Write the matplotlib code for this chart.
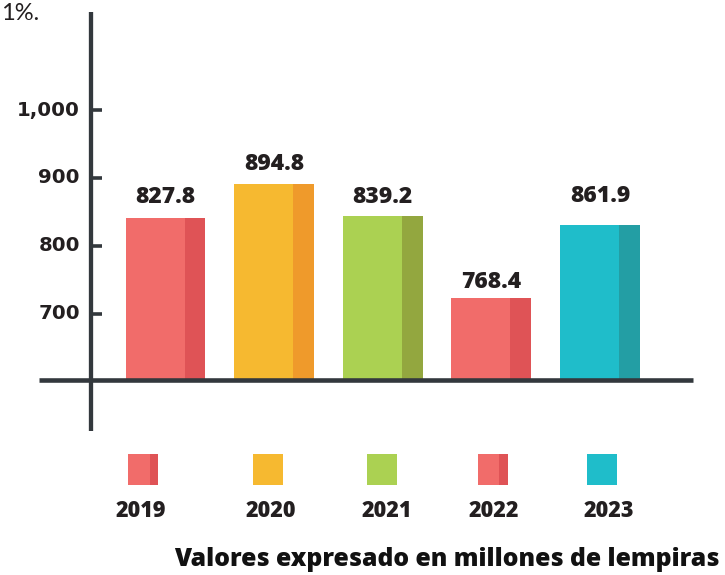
import matplotlib
matplotlib.use("Agg")
import matplotlib.pyplot as plt
from matplotlib.patches import Rectangle

# ---- data ----
years = ["2019", "2020", "2021", "2022", "2023"]
value_labels = ["827.8", "894.8", "839.2", "768.4", "861.9"]
bar_tops = [840.9, 890.6, 844.3, 723.6, 830.2]   # bar heights as drawn in the picture
baseline = 602.8
yticks = [700, 800, 900, 1000]
ytick_labels = ["700", "800", "900", "1,000"]
footer = "Valores expresado en millones de lempiras"
corner_text = "1%."

# ---- styles ----
light = ["#f16c6a", "#f6b930", "#abd152", "#f16c6a", "#1fbdca"]
dark = ["#df5356", "#ef9a2b", "#93a73f", "#df5356", "#239ea4"]
legend_dark = [True, False, False, True, False]
axis_col = "#33383d"
text_col = "#231f20"
label_off_px = [21, 20, 19, 16, 29]
FONT = "Open Sans"

W, H, DPI = 725, 575, 100
fig = plt.figure(figsize=(W / DPI, H / DPI), dpi=DPI)
fig.patch.set_facecolor("white")

ax = fig.add_axes([0, 0, 1, 1])
ax.set_xlim(-1.524, 5.152)
ax.set_ylim(315.2, 1162.0)
ax.axis("off")

bw = 0.7366
dw = 0.193
xs = list(range(len(years)))
for i, x in enumerate(xs):
    h = bar_tops[i] - baseline
    ax.bar(x, h, width=bw, bottom=baseline, color=light[i], linewidth=0, zorder=2)
    ax.bar(x + bw / 2 - dw / 2, h, width=dw, bottom=baseline, color=dark[i],
           linewidth=0, zorder=2)
    ax.annotate(value_labels[i], (x, bar_tops[i]), xytext=(0, label_off_px[i] * 0.72),
                textcoords="offset points", ha="center", va="center",
                fontsize=16.5, fontweight="heavy", family=FONT, color=text_col)

# axes lines
ax.plot([-0.686, -0.686], [527.7, 1144.3], color=axis_col, lw=3.1,
        solid_capstyle="butt", zorder=4)
ax.plot([-1.162, 4.857], [baseline, baseline], color=axis_col, lw=3.3,
        solid_capstyle="butt", zorder=4)
for v, lab in zip(yticks, ytick_labels):
    ax.plot([-0.686, -0.585], [v, v], color=axis_col, lw=2.6,
            solid_capstyle="butt", zorder=4)
    ax.text(-0.788, v, lab, ha="right", va="center", fontsize=14.2,
            fontweight="bold", family="DejaVu Sans", color=text_col)

# overlay in pixel coordinates for legend and text
ov = fig.add_axes([0, 0, 1, 1], facecolor="none")
ov.set_xlim(0, W)
ov.set_ylim(H, 0)
ov.axis("off")

sq_x = [128.3, 253.3, 366.7, 477.7, 587.3]
lab_x = [140.8, 270.8, 386.3, 494.2, 609.2]
for i, yr in enumerate(years):
    ov.add_patch(Rectangle((sq_x[i], 454), 30, 31, color=light[i], lw=0))
    if legend_dark[i]:
        ov.add_patch(Rectangle((sq_x[i] + 21.5, 454), 8.5, 31, color=dark[i], lw=0))
    ov.text(lab_x[i], 511, yr, ha="center", va="center", fontsize=15.5,
            fontweight="heavy", family=FONT, color=text_col)

ov.text(720, 560, footer, ha="right", va="center", fontsize=17.8,
        fontweight="heavy", family=FONT, color="#111111")
ov.text(1, 20, corner_text, ha="left", va="baseline", fontsize=17,
        family="Lato", color=text_col)

fig.savefig("out.png", dpi=DPI, facecolor="white")
